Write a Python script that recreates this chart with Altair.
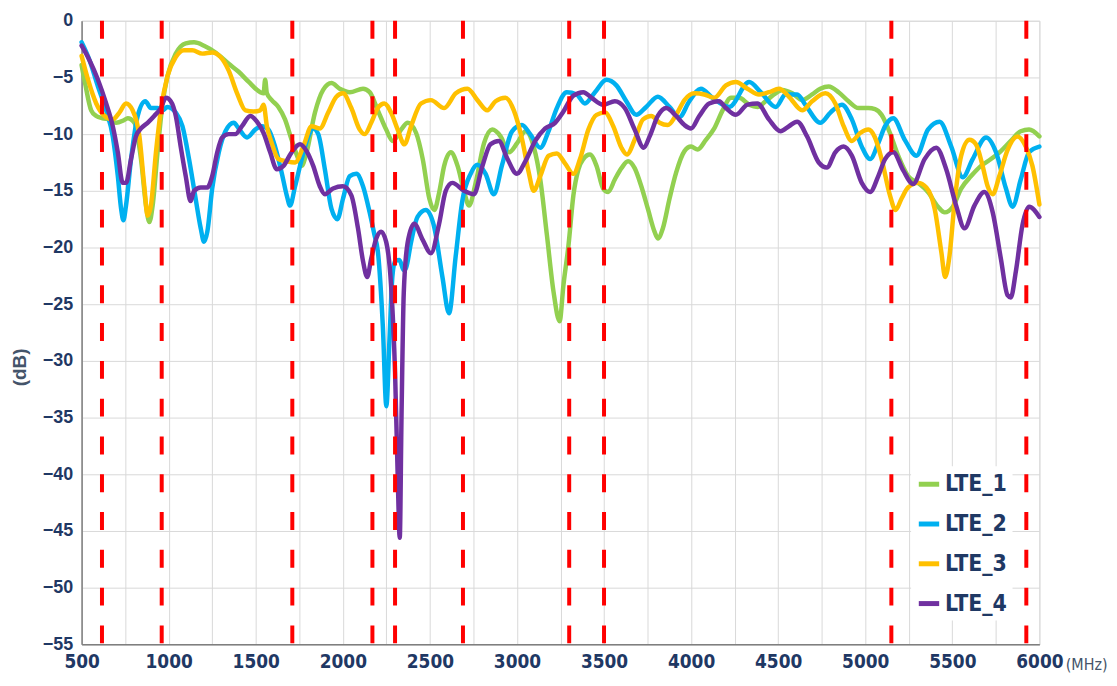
import altair as alt
import pandas as pd

# ---------------- data ----------------
lte1_f = [500, 520, 555, 584, 620, 660, 698, 740, 765, 803, 841, 870, 889, 908, 936, 965, 993, 1041, 1098, 1146,
          1203, 1269, 1345, 1402, 1460, 1526, 1545, 1554, 1564, 1592, 1630, 1668, 1706, 1745, 1764, 1792, 1840, 1887,
          1935, 1982, 2040, 2116, 2154, 2201, 2249, 2287, 2335, 2373, 2421, 2459, 2497, 2525, 2554, 2582, 2620, 2659,
          2697, 2725, 2763, 2811, 2858, 2906, 2954, 3001, 3049, 3096, 3134, 3172, 3210, 3245, 3267, 3296, 3324, 3353,
          3381, 3419, 3457, 3495, 3524, 3562, 3600, 3638, 3676, 3714, 3752, 3790, 3809, 3838, 3876, 3914, 3962, 4000,
          4038, 4085, 4133, 4181, 4229, 4276, 4333, 4381, 4428, 4476, 4524, 4581, 4638, 4695, 4742, 4790, 4847, 4904,
          4961, 5018, 5056, 5094, 5142, 5189, 5246, 5303, 5360, 5418, 5456, 5503, 5551, 5608, 5665, 5722, 5779, 5836,
          5893, 5941, 6000]
lte1_db = [-3.9, -5.5, -7.9, -8.4, -8.6, -8.7, -9.0, -8.8, -8.6, -9.0, -12.2, -16.3, -17.75, -16.3, -11.6, -7.3, -4.9,
           -2.9, -2.0, -1.9, -2.2, -2.8, -3.8, -4.5, -5.4, -6.3, -6.4, -5.2, -6.4, -7.0, -7.6, -8.7, -10.5, -12.2,
           -12.8, -11.6, -8.1, -6.1, -5.5, -6.0, -6.3, -6.0, -6.3, -7.9, -9.6, -10.6, -9.6, -9.0, -9.9, -12.2, -15.7,
           -16.7, -15.1, -12.8, -11.6, -12.8, -15.1, -16.3, -14.3, -10.8, -9.6, -10.2, -11.6, -10.8, -9.75, -11.1,
           -14.0, -18.9, -23.9, -26.5, -23.3, -19.8, -15.4, -13.1, -12.2, -11.8, -12.8, -14.8, -15.1, -14.0, -13.0,
           -12.4, -13.0, -14.6, -16.6, -18.6, -19.2, -18.3, -15.7, -13.4, -11.5, -11.1, -11.35, -10.5, -9.5, -7.9,
           -6.8, -6.8, -7.4, -7.6, -7.1, -6.5, -6.1, -6.4, -7.0, -6.5, -6.0, -5.8, -6.3, -7.1, -7.7, -7.7, -7.8, -8.3,
           -9.9, -11.9, -13.7, -14.3, -15.1, -16.4, -16.9, -16.4, -14.8, -13.7, -12.8, -12.2, -11.5, -10.6, -9.75,
           -9.6, -10.2]

lte2_f = [500, 546, 594, 641, 679, 708, 727, 740, 755, 784, 822, 866, 898, 936, 965, 993, 1041, 1079, 1117, 1155, 1184,
          1203, 1222, 1250, 1288, 1326, 1374, 1402, 1450, 1497, 1535, 1573, 1611, 1649, 1678, 1697, 1726, 1764, 1802,
          1830, 1859, 1897, 1935, 1969, 2001, 2040, 2078, 2116, 2154, 2182, 2201, 2230, 2250, 2268, 2285, 2300, 2325,
          2350, 2363, 2391, 2429, 2477, 2525, 2572, 2610, 2648, 2686, 2734, 2772, 2820, 2867, 2915, 2972, 3029, 3076,
          3134, 3181, 3229, 3286, 3343, 3390, 3448, 3514, 3571, 3628, 3685, 3742, 3809, 3876, 3933, 3990, 4056, 4123,
          4219, 4333, 4400, 4486, 4543, 4609, 4660, 4742, 4800, 4866, 4923, 4980, 5028, 5075, 5114, 5161, 5227, 5294,
          5360, 5427, 5494, 5560, 5617, 5694, 5751, 5808, 5846, 5893, 5941, 6000]
lte2_db = [-1.9, -3.5, -5.8, -7.9, -10.2, -13.7, -16.6, -17.6, -16.3, -12.2, -8.4, -7.1, -7.7, -7.7, -7.9, -7.6, -8.1,
           -9.3, -12.2, -15.7, -18.3, -19.5, -18.6, -14.8, -11.6, -9.75, -9.0, -9.5, -10.3, -9.6, -9.3, -9.6, -11.1,
           -13.4, -15.4, -16.3, -14.6, -12.2, -10.2, -9.5, -10.0, -13.1, -16.6, -17.5, -15.7, -13.7, -13.5, -14.6,
           -16.9, -18.9, -20.3, -27.0, -34.0, -28.1, -22.5, -21.2, -21.1, -22.0, -21.8, -19.6, -17.3, -16.7, -18.2,
           -22.6, -25.8, -20.8, -15.9, -13.5, -12.7, -13.5, -15.3, -12.7, -9.75, -9.2, -10.0, -11.2, -9.75, -7.7,
           -6.3, -6.5, -7.3, -6.3, -5.2, -5.7, -7.1, -8.3, -7.6, -6.7, -7.6, -8.5, -7.1, -6.0, -6.8, -7.6, -5.4,
           -6.3, -7.6, -6.5, -6.5, -7.5, -9.0, -8.1, -7.4, -8.7, -11.1, -12.2, -10.8, -9.3, -8.6, -10.5, -11.9, -9.6,
           -8.9, -11.1, -13.8, -12.2, -10.3, -11.6, -14.8, -16.4, -14.0, -11.6, -11.1]

lte3_f = [500, 537, 584, 632, 679, 717, 755, 793, 832, 860, 879, 898, 927, 955, 993, 1041, 1088, 1136, 1193, 1250, 1298,
          1345, 1393, 1441, 1488, 1526, 1545, 1564, 1592, 1630, 1678, 1726, 1773, 1821, 1868, 1916, 1963, 2001, 2049,
          2097, 2125, 2163, 2201, 2239, 2277, 2315, 2354, 2392, 2449, 2506, 2582, 2649, 2716, 2773, 2830, 2877, 2934,
          2982, 3030, 3068, 3096, 3134, 3182, 3229, 3277, 3324, 3362, 3410, 3457, 3505, 3553, 3600, 3632, 3676, 3724,
          3771, 3819, 3866, 3914, 3962, 4019, 4076, 4133, 4200, 4257, 4324, 4390, 4447, 4505, 4562, 4638, 4695, 4771,
          4828, 4876, 4923, 4971, 5018, 5056, 5094, 5142, 5174, 5208, 5246, 5303, 5351, 5399, 5437, 5459, 5484, 5513,
          5551, 5598, 5636, 5674, 5703, 5732, 5770, 5817, 5874, 5922, 5960, 6000]
lte3_db = [-3.1, -5.2, -7.3, -8.4, -8.7, -8.1, -7.3, -7.9, -10.2, -14.6, -17.2, -16.3, -11.6, -7.9, -4.9, -3.2, -2.6,
           -2.6, -2.9, -2.8, -3.2, -4.4, -6.4, -7.9, -8.0, -7.9, -7.4, -9.3, -10.8, -12.2, -12.4, -12.5, -11.1, -9.3,
           -9.5, -8.1, -6.7, -6.4, -7.7, -9.6, -10.0, -9.0, -7.7, -7.3, -8.1, -9.6, -10.9, -9.3, -7.3, -7.0, -7.7,
           -6.4, -6.0, -7.0, -7.9, -7.1, -6.8, -7.9, -10.5, -13.4, -15.0, -13.7, -11.9, -11.7, -12.6, -13.5, -12.2,
           -9.6, -8.3, -8.1, -9.3, -11.2, -11.8, -10.5, -8.7, -8.4, -9.0, -9.2, -8.3, -7.0, -6.4, -6.5, -6.8, -5.7,
           -5.4, -6.0, -6.5, -6.3, -6.0, -6.7, -7.9, -7.1, -6.4, -7.3, -9.3, -10.6, -9.9, -9.6, -10.3, -12.2, -15.4,
           -16.7, -15.7, -14.7, -14.3, -14.7, -16.6, -20.4, -22.6, -20.7, -16.0, -11.9, -10.5, -10.9, -12.8, -14.6,
           -15.3, -13.7, -11.4, -10.2, -11.1, -12.8, -16.2]

lte4_f = [500, 546, 594, 641, 679, 708, 736, 755, 784, 812, 841, 879, 917, 955, 984, 1012, 1041, 1069, 1098, 1126, 1146,
          1184, 1222, 1250, 1279, 1307, 1345, 1383, 1421, 1469, 1507, 1545, 1583, 1621, 1659, 1706, 1754, 1792, 1830,
          1868, 1897, 1944, 2001, 2049, 2087, 2116, 2140, 2163, 2192, 2220, 2249, 2277, 2300, 2315, 2327, 2337, 2350,
          2372, 2410, 2458, 2506, 2553, 2591, 2629, 2696, 2753, 2800, 2848, 2896, 2943, 3000, 3048, 3105, 3162, 3219,
          3267, 3324, 3381, 3429, 3495, 3562, 3619, 3676, 3728, 3762, 3809, 3857, 3914, 3962, 4000, 4047, 4104, 4161,
          4200, 4257, 4324, 4381, 4447, 4514, 4562, 4609, 4666, 4733, 4780, 4828, 4876, 4923, 4980, 5028, 5075, 5114,
          5161, 5218, 5275, 5341, 5408, 5465, 5522, 5570, 5627, 5684, 5732, 5779, 5817, 5836, 5865, 5903, 5941, 6000]
lte4_db = [-2.2, -3.5, -5.2, -7.3, -9.3, -11.6, -14.3, -14.3, -12.2, -10.2, -9.5, -9.0, -8.4, -7.7, -6.8, -7.1, -8.4,
           -11.1, -13.7, -15.9, -15.0, -14.7, -14.7, -13.7, -11.6, -10.3, -10.0, -10.0, -9.3, -8.4, -8.9, -9.9, -11.6,
           -13.1, -12.8, -11.6, -10.9, -11.5, -12.8, -14.6, -15.3, -14.8, -14.6, -15.4, -18.3, -21.2, -22.6, -21.0,
           -19.2, -18.6, -19.5, -23.3, -31.0, -40.0, -45.6, -35.0, -24.0, -19.6, -17.9, -19.3, -20.5, -17.9, -15.0,
           -14.3, -15.0, -15.3, -12.9, -10.9, -10.6, -12.1, -13.5, -12.4, -10.6, -9.5, -9.0, -8.0, -6.6, -6.3, -6.8,
           -7.4, -7.1, -7.7, -9.6, -11.2, -10.2, -8.4, -7.7, -8.4, -9.2, -9.5, -8.4, -7.3, -7.1, -7.7, -8.3, -7.4,
           -7.3, -8.7, -9.75, -9.3, -8.9, -10.2, -12.5, -12.95, -11.6, -11.1, -11.9, -14.3, -15.1, -13.7, -12.2,
           -11.6, -13.2, -14.4, -12.2, -11.2, -13.1, -16.3, -18.3, -16.3, -15.1, -16.9, -21.0, -24.2, -24.4, -22.1,
           -18.0, -16.4, -17.3]

series_names = ["LTE_1", "LTE_2", "LTE_3", "LTE_4"]
series_colors = ["#92D050", "#00B0F0", "#FFC000", "#7030A0"]
band_edges = [617, 960, 1710, 2170, 2300, 2690, 3300, 3500, 5150, 5925]
x_ticks = list(range(500, 6001, 250))
y_ticks = list(range(-55, 1, 5))

# ---------------- tables ----------------
rows = []
for name, fs, ds in zip(series_names, [lte1_f, lte2_f, lte3_f, lte4_f], [lte1_db, lte2_db, lte3_db, lte4_db]):
    for f, d in zip(fs, ds):
        rows.append({"series": name, "freq": f, "db": d})
df = pd.DataFrame(rows)
df_edges = pd.DataFrame({"freq": band_edges})

NAVY = "#1F3864"
TITLE = "#44546A"
FONT = "Liberation Sans, Arial, sans-serif"
NARROW = "Liberation Sans Narrow, DejaVu Sans Condensed, Liberation Sans, Arial, sans-serif"

x_scale = alt.Scale(domain=[500, 6000], nice=False, zero=False)
y_scale = alt.Scale(domain=[-55, 0], nice=False, zero=False)

x_axis = alt.Axis(values=x_ticks, labelExpr="datum.value % 500 == 0 ? datum.label : ''", format="d",
                  labelOverlap=False, labelFlush=False, ticks=False, labelPadding=8,
                  labelFont=NARROW, labelFontSize=19, labelFontWeight="bold", labelColor=NAVY,
                  title="(MHz)", titleFont=NARROW, titleFontSize=16, titleFontWeight="normal", titleColor=TITLE,
                  titleX=1010, titleY=20, titleAlign="center", titleBaseline="middle",
                  grid=True, gridColor="#D9D9D9", gridWidth=1, domainColor="#7F7F7F", domainWidth=1.5)
y_axis = alt.Axis(values=y_ticks, format="d", ticks=False, labelPadding=9,
                  labelFont=FONT, labelFontSize=18, labelFontWeight="bold", labelColor=NAVY,
                  title="(dB)", titleFont=FONT, titleFontSize=19, titleFontWeight="bold", titleColor=TITLE,
                  titleX=-62, titleY=348, titleAlign="center", titleBaseline="middle", titleAngle=-90,
                  grid=True, gridColor="#D9D9D9", gridWidth=1, domainColor="#7F7F7F", domainWidth=1.5)

lines = alt.Chart(df).mark_line(strokeWidth=4.5, interpolate="monotone", strokeCap="round",
                                strokeJoin="round").encode(
    x=alt.X("freq:Q", scale=x_scale, axis=x_axis),
    y=alt.Y("db:Q", scale=y_scale, axis=y_axis),
    color=alt.Color("series:N", scale=alt.Scale(domain=series_names, range=series_colors),
                    legend=alt.Legend(title=None, orient="none", legendX=834, legendY=448,
                                      symbolType="stroke", symbolSize=420, symbolStrokeWidth=5,
                                      labelFont=NARROW, labelFontSize=23, labelFontWeight="bold",
                                      labelColor=NAVY, labelOffset=3, rowPadding=15, padding=5,
                                      fillColor="white")),
    order=alt.Order("series:N"),
    detail="series:N",
)

rules = alt.Chart(df_edges).mark_rule(color="#FF0000", strokeWidth=4, strokeDash=[18, 20]).encode(
    x=alt.X("freq:Q", scale=x_scale),
)

chart = alt.layer(lines, rules).properties(
    width=963, height=627,
    autosize=alt.AutoSizeParams(type="none"),
    padding={"left": 74, "top": 11, "right": 70, "bottom": 30},
).configure_view(stroke="#7F7F7F", strokeWidth=1.5).configure(background="white")

chart.save("out.html", embed_options={"renderer": "svg", "actions": False})
